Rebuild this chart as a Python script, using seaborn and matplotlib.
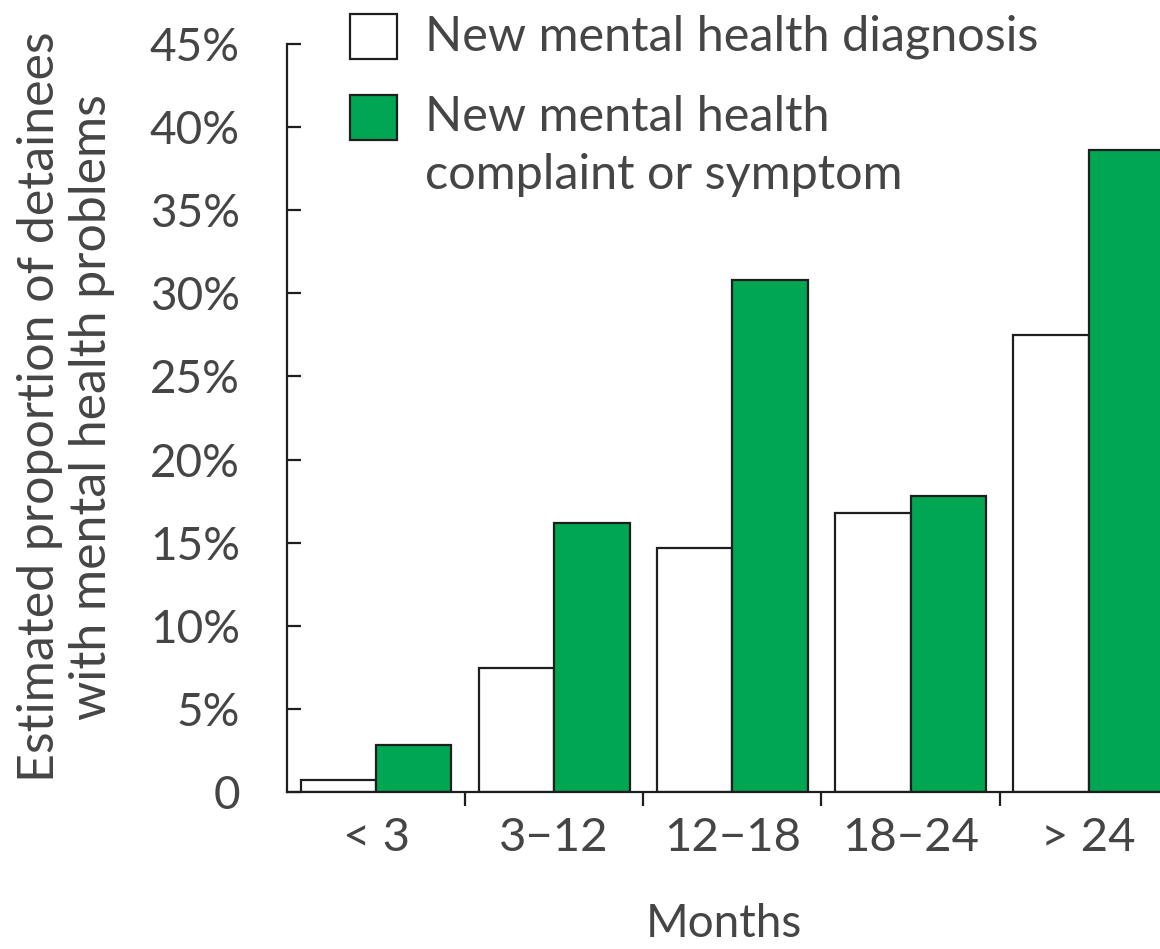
import matplotlib
matplotlib.use("Agg")
import matplotlib.pyplot as plt
from matplotlib.patches import Rectangle
import seaborn as sns
import pandas as pd

# Data
months = ["< 3", "3\u221212", "12\u221218", "18\u221224", "> 24"]
diagnosis = [0.7, 7.45, 14.7, 16.8, 27.5]
symptom = [2.8, 16.2, 30.8, 17.8, 38.6]
series_names = ["New mental health diagnosis", "New mental health\ncomplaint or symptom"]
y_ticks = [0, 5, 10, 15, 20, 25, 30, 35, 40, 45]
y_tick_labels = ["0"] + ["%d%%" % v for v in y_ticks[1:]]

GREEN = "#00A651"
TEXT = "#454545"
EDGE = "#1e1e1e"

df = pd.DataFrame({
    "months": months * 2,
    "pct": diagnosis + symptom,
    "series": ["diag"] * len(months) + ["symp"] * len(months),
})

# Figure
sns.set_theme(style="ticks")
plt.rcParams["font.family"] = ["Lato", "DejaVu Sans"]

W, H = 1160, 949
fig = plt.figure(figsize=(W / 100, H / 100), dpi=100)
ax = fig.add_axes([287 / W, 157 / H, 873 / W, 748 / H])

sns.barplot(data=df, x="months", y="pct", hue="series", hue_order=["diag", "symp"],
            palette={"diag": "white", "symp": GREEN}, saturation=1,
            edgecolor=EDGE, linewidth=1.6, width=0.846, gap=0, legend=False, ax=ax)

# Axes
ax.set_xlim(-0.5, 4.4)
ax.set_ylim(0, 45)
ax.set_yticks(y_ticks)
ax.set_yticklabels(y_tick_labels)
ax.set_xticks([0.5, 1.5, 2.5, 3.5], minor=True)
for side in ["top", "right"]:
    ax.spines[side].set_visible(False)
for side in ["left", "bottom"]:
    ax.spines[side].set_color(EDGE)
    ax.spines[side].set_linewidth(1.6)

ax.tick_params(axis="y", left=True, direction="in", length=10, width=1.6, color=EDGE,
               pad=34, labelsize=33, labelcolor=TEXT)
ax.tick_params(axis="x", which="major", bottom=True, length=0, pad=18, labelsize=34,
               labelcolor=TEXT)
ax.tick_params(axis="x", which="minor", bottom=True, direction="out", length=10,
               width=1.6, color=EDGE)

ax.set_xlabel("Months", fontsize=33, color=TEXT, labelpad=32)
ax.set_ylabel("")
fig.text(66 / W, 1 - 407 / H, "Estimated proportion of detainees\nwith mental health problems",
         rotation=90, ha="center", va="center", fontsize=36, color=TEXT,
         multialignment="center", linespacing=1.15)

# Legend drawn by hand so the square lines up with the first text line
for top, color in [(14, "white"), (95, GREEN)]:
    fig.patches.append(Rectangle((350 / W, 1 - (top + 45) / H), 47 / W, 45 / H,
                                 transform=fig.transFigure, facecolor=color,
                                 edgecolor=EDGE, linewidth=1.6))
fig.text(425 / W, 1 - 37 / H, series_names[0], ha="left", va="center",
         fontsize=35, color=TEXT)
fig.text(425 / W, 1 - 95 / H, series_names[1], ha="left", va="top",
         fontsize=35, color=TEXT, linespacing=1.4)

plt.savefig("out.png", dpi=100)
